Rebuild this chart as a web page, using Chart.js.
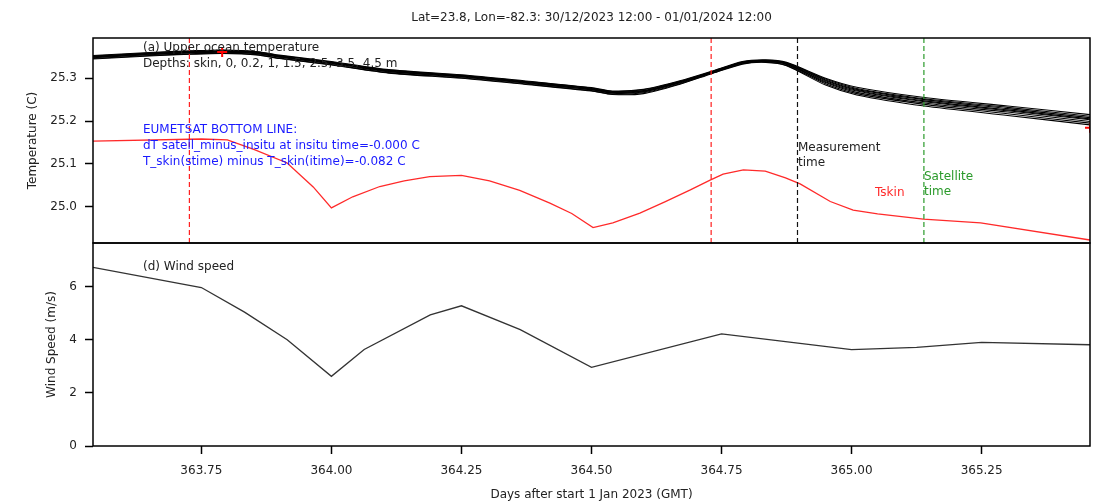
<!DOCTYPE html>
<html>
<head>
<meta charset="utf-8">
<script src="https://cdn.jsdelivr.net/npm/chart.js@4.4.1/dist/chart.umd.min.js"></script>
<style>
  html, body { margin: 0; padding: 0; background: #ffffff; }
  #wrap { position: relative; width: 1097px; height: 503px; overflow: hidden; background: #fff; }
  #cTop { position: absolute; left: 0; top: 0; }
  #cBot { position: absolute; left: 0; top: 236px; }
</style>
</head>
<body>
<div id="wrap">
  <canvas id="cTop" width="1097" height="250"></canvas>
  <canvas id="cBot" width="1097" height="267"></canvas>
</div>
<script>
// ---------------- DATA ----------------
const titleText = "Lat=23.8, Lon=-82.3: 30/12/2023 12:00 - 01/01/2024 12:00";
const xMin = 363.5417, xMax = 365.4583;
const xTicks = [363.75, 364.00, 364.25, 364.50, 364.75, 365.00, 365.25];
const tempTicks = [25.0, 25.1, 25.2, 25.3];
const windTicks = [0, 2, 4, 6];
const tempMin = 24.915, tempMax = 25.394;
const windMin = 0, windMax = 7.66;

// depth temperature time axis
const tDepth = [363.5417, 363.65, 363.73, 363.79, 363.86, 363.9, 364.0, 364.11, 364.25, 364.37, 364.5, 364.54, 364.6, 364.67, 364.73, 364.79, 364.835, 364.875, 364.95, 365.01, 365.14, 365.30, 365.4583];
const depthLabels = ["skin", "0", "0.2", "1", "1.5", "2.5", "3.5", "4.5"];
const tSkinDepth = [25.353, 25.360, 25.364, 25.366, 25.362, 25.354, 25.339, 25.320, 25.308, 25.294, 25.278, 25.270, 25.274, 25.294, 25.316, 25.339, 25.343, 25.337, 25.300, 25.279, 25.255, 25.235, 25.215];
const t0m   = [25.352, 25.359, 25.363, 25.365, 25.361, 25.353, 25.338, 25.319, 25.307, 25.293, 25.277, 25.269, 25.273, 25.293, 25.315, 25.338, 25.342, 25.336, 25.298, 25.276, 25.252, 25.232, 25.211];
const t02m  = [25.351, 25.358, 25.362, 25.364, 25.360, 25.352, 25.337, 25.318, 25.306, 25.292, 25.276, 25.268, 25.271, 25.292, 25.314, 25.337, 25.341, 25.335, 25.296, 25.274, 25.250, 25.229, 25.208];
const t1m   = [25.350, 25.357, 25.361, 25.363, 25.359, 25.351, 25.336, 25.317, 25.305, 25.291, 25.275, 25.267, 25.270, 25.291, 25.314, 25.337, 25.341, 25.334, 25.294, 25.272, 25.247, 25.226, 25.205];
const t15m  = [25.349, 25.356, 25.360, 25.362, 25.358, 25.350, 25.335, 25.316, 25.304, 25.290, 25.274, 25.266, 25.269, 25.290, 25.313, 25.336, 25.340, 25.333, 25.292, 25.270, 25.245, 25.224, 25.203];
const t25m  = [25.348, 25.355, 25.359, 25.361, 25.357, 25.349, 25.334, 25.315, 25.303, 25.289, 25.273, 25.265, 25.268, 25.289, 25.312, 25.335, 25.339, 25.332, 25.290, 25.267, 25.242, 25.221, 25.199];
const t35m  = [25.346, 25.353, 25.357, 25.359, 25.355, 25.347, 25.332, 25.313, 25.301, 25.287, 25.271, 25.263, 25.266, 25.287, 25.311, 25.334, 25.338, 25.330, 25.287, 25.264, 25.239, 25.217, 25.195];
const t45m  = [25.345, 25.352, 25.356, 25.358, 25.354, 25.346, 25.331, 25.312, 25.300, 25.286, 25.270, 25.262, 25.264, 25.286, 25.310, 25.333, 25.337, 25.329, 25.284, 25.261, 25.235, 25.213, 25.191];

// Tskin (red)
const tTskin = [363.5417, 363.75, 363.80, 363.852, 363.915, 363.965, 364.0, 364.041, 364.093, 364.14, 364.189, 364.25, 364.304, 364.362, 364.42, 364.462, 364.503, 364.541, 364.593, 364.641, 364.69, 364.728, 364.753, 364.792, 364.834, 364.873, 364.901, 364.959, 365.003, 365.05, 365.138, 365.248, 365.4583];
const tskin  = [25.153, 25.158, 25.156, 25.133, 25.102, 25.046, 24.997, 25.023, 25.047, 25.060, 25.070, 25.073, 25.060, 25.038, 25.008, 24.984, 24.951, 24.962, 24.985, 25.011, 25.039, 25.062, 25.076, 25.086, 25.083, 25.067, 25.053, 25.012, 24.992, 24.983, 24.971, 24.962, 24.922];

// red '+' markers
const markX = [363.79, 365.4583];
const markY = [25.361, 25.184];

// vertical reference times
const vRed = [363.727, 364.73];
const vMeasure = 364.896;
const vSatellite = 365.139;

// Wind speed
const tWind = [363.5417, 363.75, 363.833, 363.915, 364.0, 364.063, 364.19, 364.25, 364.363, 364.5, 364.75, 365.0, 365.125, 365.25, 365.4583];
const wind  = [6.74, 5.98, 5.05, 4.01, 2.63, 3.64, 4.95, 5.29, 4.39, 2.97, 4.23, 3.64, 3.72, 3.91, 3.82];

// ---------------- HELPERS ----------------
const FONT = '"DejaVu Sans", "Liberation Sans", sans-serif';
Chart.defaults.font.family = FONT;
Chart.defaults.font.size = 12;
Chart.defaults.color = '#222';

const pts = (xs, ys) => xs.map((x, i) => ({x: x, y: ys[i]}));
const vline = (x, lo, hi) => [{x: x, y: lo}, {x: x, y: hi}];

const framePlugin = {
  id: 'frame',
  afterDatasetsDraw(chart) {
    const a = chart.chartArea, ctx = chart.ctx;
    ctx.save();
    ctx.strokeStyle = '#000';
    ctx.lineWidth = 1.5;
    ctx.strokeRect(a.left, a.top, a.right - a.left, a.bottom - a.top);
    ctx.restore();
  }
};

function makeTextPlugin(id, items) {
  return {
    id: id,
    afterDraw(chart) {
      const ctx = chart.ctx;
      ctx.save();
      ctx.font = '12px ' + FONT;
      ctx.textBaseline = 'middle';
      ctx.textAlign = 'left';
      items.forEach(it => { ctx.fillStyle = it.c; ctx.fillText(it.t, it.x, it.y); });
      ctx.restore();
    }
  };
}

const yAfterFit = (w) => (s) => { s.width = w; s.paddingTop = 0; s.paddingBottom = 0; };

// ---------------- TOP CHART ----------------
const depthArrays = [tSkinDepth, t0m, t02m, t1m, t15m, t25m, t35m, t45m];
const topDatasets = [];
topDatasets.push({ label: 'marker', data: pts(markX, markY), showLine: false, pointStyle: 'cross',
  pointRadius: 5, pointBorderWidth: 2, borderColor: '#ff0000', backgroundColor: '#ff0000' });
vRed.forEach(v => topDatasets.push({ label: 'vred', data: vline(v, tempMin, tempMax), borderColor: '#ff2020',
  borderWidth: 1.2, borderDash: [5, 3], pointRadius: 0 }));
topDatasets.push({ label: 'measurement', data: vline(vMeasure, tempMin, tempMax), borderColor: '#111',
  borderWidth: 1.2, borderDash: [5, 3], pointRadius: 0 });
topDatasets.push({ label: 'satellite', data: vline(vSatellite, tempMin, tempMax), borderColor: '#2a9a2a',
  borderWidth: 1.2, borderDash: [5, 3], pointRadius: 0 });
topDatasets.push({ label: 'Tskin', data: pts(tTskin, tskin), borderColor: '#ff2a2a', borderWidth: 1.3,
  pointRadius: 0, tension: 0 });
depthArrays.forEach((arr, i) => topDatasets.push({ label: depthLabels[i], data: pts(tDepth, arr),
  borderColor: '#000', borderWidth: 1.1, pointRadius: 0, tension: 0.25 }));

const topTexts = [
  {t: '(a) Upper ocean temperature', x: 143, y: 48, c: '#222'},
  {t: 'Depths: skin, 0, 0.2, 1, 1.5, 2.5, 3.5, 4.5 m', x: 143, y: 64, c: '#222'},
  {t: 'EUMETSAT BOTTOM LINE:', x: 143, y: 130, c: '#1a1aff'},
  {t: 'dT satell_minus_insitu at insitu time=-0.000 C', x: 143, y: 146, c: '#1a1aff'},
  {t: 'T_skin(stime) minus T_skin(itime)=-0.082 C', x: 143, y: 162, c: '#1a1aff'},
  {t: 'Measurement', x: 798, y: 148, c: '#222'},
  {t: 'time', x: 798, y: 163, c: '#222'},
  {t: 'Satellite', x: 924, y: 177, c: '#2a9a2a'},
  {t: 'time', x: 924, y: 192, c: '#2a9a2a'},
  {t: 'Tskin', x: 875, y: 193, c: '#ff2a2a'}
];

new Chart(document.getElementById('cTop'), {
  type: 'line',
  data: { datasets: topDatasets },
  options: {
    responsive: false, animation: false, parsing: true,
    layout: { padding: { left: 0, right: 7, top: 0, bottom: 7 } },
    plugins: {
      legend: { display: false }, tooltip: { enabled: false },
      title: { display: true, fullSize: false, text: titleText, color: '#222',
        font: { size: 12, weight: 'normal', lineHeight: 1.2 }, padding: { top: 11, bottom: 12.6 } }
    },
    scales: {
      x: { type: 'linear', min: xMin, max: xMax, display: false },
      y: { type: 'linear', min: tempMin, max: tempMax,
        afterBuildTicks: s => { s.ticks = tempTicks.map(v => ({value: v})); },
        afterFit: yAfterFit(93),
        ticks: { padding: 8, color: '#222', callback: v => v.toFixed(1) },
        grid: { display: true, drawOnChartArea: false, drawTicks: true, tickLength: 8, tickColor: '#000', tickWidth: 1.5 },
        border: { display: false },
        title: { display: true, text: 'Temperature (C)', color: '#222', font: { size: 12, lineHeight: 1.2 },
          padding: { top: 25.8, bottom: 0 } }
      }
    }
  },
  plugins: [framePlugin, makeTextPlugin('topText', topTexts)]
});

// ---------------- BOTTOM CHART ----------------
const botTexts = [ {t: '(d) Wind speed', x: 143, y: 267 - 236, c: '#222'} ];

new Chart(document.getElementById('cBot'), {
  type: 'line',
  data: { datasets: [ { label: 'Wind speed', data: pts(tWind, wind), borderColor: '#333', borderWidth: 1.3,
    pointRadius: 0, tension: 0 } ] },
  options: {
    responsive: false, animation: false,
    layout: { padding: { left: 0, right: 7, top: 7, bottom: 0 } },
    plugins: { legend: { display: false }, tooltip: { enabled: false } },
    scales: {
      x: { type: 'linear', min: xMin, max: xMax,
        afterBuildTicks: s => { s.ticks = xTicks.map(v => ({value: v})); },
        afterFit: s => { s.height = 57; },
        ticks: { padding: 10, color: '#222', maxRotation: 0, autoSkip: false, callback: v => Number(v).toFixed(2) },
        grid: { display: true, drawOnChartArea: false, drawTicks: true, tickLength: 8, tickColor: '#000', tickWidth: 1.5 },
        border: { display: false },
        title: { display: true, text: 'Days after start 1 Jan 2023 (GMT)', color: '#222',
          font: { size: 12, lineHeight: 1.2 }, padding: { top: 0, bottom: 1 } }
      },
      y: { type: 'linear', min: windMin, max: windMax,
        afterBuildTicks: s => { s.ticks = windTicks.map(v => ({value: v})); },
        afterFit: yAfterFit(93),
        ticks: { padding: 8, color: '#222', callback: v => String(v) },
        grid: { display: true, drawOnChartArea: false, drawTicks: true, tickLength: 8, tickColor: '#000', tickWidth: 1.5 },
        border: { display: false },
        title: { display: true, text: 'Wind Speed (m/s)', color: '#222', font: { size: 12, lineHeight: 1.2 },
          padding: { top: 44.8, bottom: 0 } }
      }
    }
  },
  plugins: [framePlugin, makeTextPlugin('botText', botTexts)]
});
</script>
</body>
</html>
